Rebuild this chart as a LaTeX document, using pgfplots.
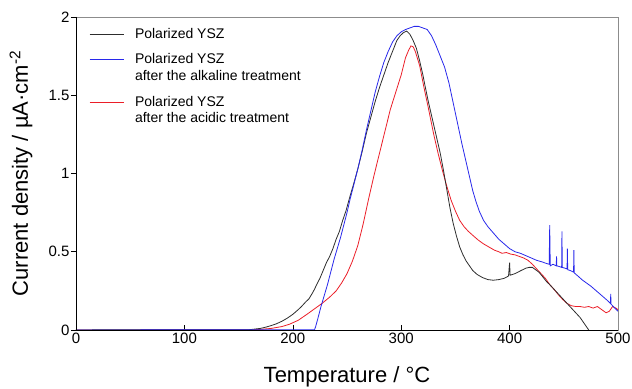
\documentclass[border=0pt]{standalone}
\usepackage{fontspec}
\setmainfont{Liberation Sans}
\usepackage{pgfplots}
\pgfplotsset{compat=1.18}
\definecolor{cblack}{RGB}{45,45,45}
\definecolor{cblue}{RGB}{40,40,235}
\definecolor{cred}{RGB}{235,30,40}
\definecolor{boxgray}{RGB}{140,140,140}
\begin{document}
\begin{tikzpicture}
\begin{axis}[
  scale only axis, width=542pt, height=313pt,
  xmin=0, xmax=500, ymin=0, ymax=2,
  xtick={0,100,200,300,400,500}, ytick={0,0.5,1,1.5,2},
  tick pos=left, tick align=inside, major tick length=5pt,
  ytick style={xshift=-5pt},
  tick style={black, line width=0.6pt},
  axis line style={boxgray, line width=0.8pt},
  /pgf/number format/assume math mode=true,
  tick label style={font=\fontsize{15}{18}\selectfont},
  yticklabel style={xshift=-3pt},
  every axis x label/.style={at={(axis description cs:0.5,-0.1693)}, anchor=base},
  every axis y label/.style={at={(axis description cs:-0.0886,0.5)}, rotate=90, anchor=base},
  label style={font=\fontsize{22}{26}\selectfont},
  xlabel={Temperature / °C},
  ylabel={Current density / µA·cm\textsuperscript{-2}},
  legend image code/.code={\draw[#1] (0pt,4.5pt) -- (34pt,4.5pt);},
  legend style={draw=none, fill=none, inner sep=0pt, column sep=11pt, row sep=0pt,
    font=\fontsize{14}{16}\selectfont,
    at={(axis description cs:0.0240,0.9719)}, anchor=north west,
    nodes={inner sep=0pt}, cells={anchor=base west}},
  after end axis/.code={\draw[black, line width=0.8pt] (rel axis cs:0,1) -- (rel axis cs:0,0) -- (rel axis cs:1,0);},
]
\addplot[cred, line width=0.8pt, forget plot] coordinates {
(0,0) (100,0.001) (160,0.001) (170,0.004) (180,0.010) (190,0.022) (197,0.037) (205,0.062)
(213,0.10) (220,0.135) (227,0.17) (234,0.21) (240,0.25) (245,0.30) (250,0.36) (255,0.44)
(260,0.54) (265,0.68) (270,0.84) (275,0.99) (280,1.13) (285,1.27) (290,1.41) (295,1.52)
(300,1.63) (304,1.74) (307,1.79) (309,1.815) (311,1.81) (313,1.78) (317,1.69) (321,1.55)
(325,1.42) (330,1.25) (334,1.13) (338,1.02) (342,0.92) (346,0.83) (350,0.76)
(354,0.70) (358,0.66) (362,0.63) (366,0.605) (371,0.575) (376,0.55) (381,0.53) (386,0.51)
(390,0.50) (393,0.49) (397,0.495) (401,0.485) (405,0.48) (409,0.47) (413,0.46) (417,0.445)
(421,0.42) (425,0.39) (429,0.36) (433,0.33) (437,0.29) (441,0.26) (445,0.225) (449,0.195)
(453,0.17) (457,0.155) (461,0.15) (465,0.15) (469,0.145) (473,0.15) (477,0.14) (481,0.15)
(485,0.13) (489,0.11) (492,0.12) (495,0.15) (498,0.14) (500,0.13)
};
\addplot[cblack, line width=0.8pt, forget plot] coordinates {
(0,0) (50,0.002) (100,0.001) (150,0.001) (160,0.002) (165,0.006) (170,0.010) (175,0.018)
(180,0.028) (185,0.040) (190,0.056) (195,0.076) (200,0.10) (205,0.13) (208,0.15) (212,0.18)
(215,0.20) (218,0.235) (220,0.26) (222,0.29) (225,0.33) (228,0.38) (231,0.43) (234,0.47)
(237,0.52) (240,0.58) (243,0.63) (246,0.70) (249,0.76) (253,0.86) (256,0.93) (260,1.03)
(264,1.14) (268,1.26) (272,1.36) (276,1.46) (280,1.55) (284,1.63) (288,1.71) (292,1.78)
(296,1.85) (299,1.88) (302,1.90) (305,1.91) (308,1.89) (311,1.85) (314,1.80) (317,1.72)
(320,1.63) (322,1.56) (325,1.46) (327,1.40) (330,1.31) (333,1.22) (336,1.13) (339,1.02)
(342,0.90) (345,0.78) (348,0.68) (351,0.60) (354,0.53) (357,0.48) (360,0.44) (363,0.41)
(366,0.38) (370,0.355) (375,0.335) (380,0.322) (385,0.318) (390,0.322) (395,0.33) (399,0.345)
(400,0.43) (400.5,0.35) (405,0.36) (410,0.378) (415,0.395) (418,0.40) (421,0.40) (424,0.385)
(427,0.37) (430,0.345) (434,0.31) (437,0.29) (441,0.26) (445,0.23) (449,0.20) (453,0.17)
(457,0.14) (461,0.11) (465,0.08) (468,0.05) (471,0.02) (473,0.0)
};
\addplot[cblue, line width=0.8pt, forget plot] coordinates {
(0,0) (100,0.001) (200,0.001) (220,0.001) (221,0.02) (223,0.07) (226,0.15) (229,0.22)
(232,0.29) (235,0.37) (238,0.45) (241,0.52) (244,0.59) (247,0.67) (250,0.75) (253,0.84)
(256,0.92) (260,1.03) (264,1.15) (268,1.28) (272,1.40) (276,1.52) (280,1.62) (284,1.71)
(288,1.78) (292,1.84) (296,1.88) (300,1.905) (304,1.92) (308,1.93) (312,1.94) (316,1.94)
(320,1.93) (324,1.92) (328,1.88) (332,1.82) (336,1.75) (340,1.68) (344,1.58) (348,1.45)
(352,1.32) (356,1.19) (360,1.07) (363,0.98) (366,0.89) (369,0.82) (372,0.76) (376,0.70)
(380,0.66) (385,0.62) (390,0.58) (395,0.55) (400,0.52) (405,0.50) (410,0.49) (415,0.475)
(420,0.46) (425,0.445) (430,0.435) (434,0.425) (436.5,0.42) (437,0.67) (437.5,0.41) (440,0.42)
(443,0.41) (443.3,0.47) (443.6,0.41) (446,0.405) (448,0.40) (448.3,0.63) (448.6,0.40) (451,0.395)
(453,0.39) (453.3,0.52) (453.6,0.385) (456,0.38) (459,0.37) (459.3,0.51) (459.6,0.365) (463,0.345)
(467,0.32) (471,0.30) (475,0.28) (480,0.25) (485,0.22) (490,0.19) (493,0.17) (493.3,0.23)
(493.6,0.165) (497,0.14) (500,0.12)
};
\addlegendimage{color=cblack, draw=cblack, line width=0.8pt}
\addlegendentry{\rule{0pt}{12.5pt}Polarized YSZ}
\addlegendimage{color=cblue, draw=cblue, line width=0.8pt}
\addlegendentry{\rule{0pt}{24pt}Polarized YSZ}
\addlegendimage{empty legend}
\addlegendentry{\rule{0pt}{15pt}after the alkaline treatment}
\addlegendimage{color=cred, draw=cred, line width=0.8pt}
\addlegendentry{\rule{0pt}{25pt}Polarized YSZ}
\addlegendimage{empty legend}
\addlegendentry{\rule{0pt}{14pt}after the acidic treatment}
\end{axis}
\pgfresetboundingbox
\path[use as bounding box] ([shift={(-76pt,-59pt)}]current axis.south west) rectangle ([shift={(14pt,17pt)}]current axis.north east);
\end{tikzpicture}
\end{document}
